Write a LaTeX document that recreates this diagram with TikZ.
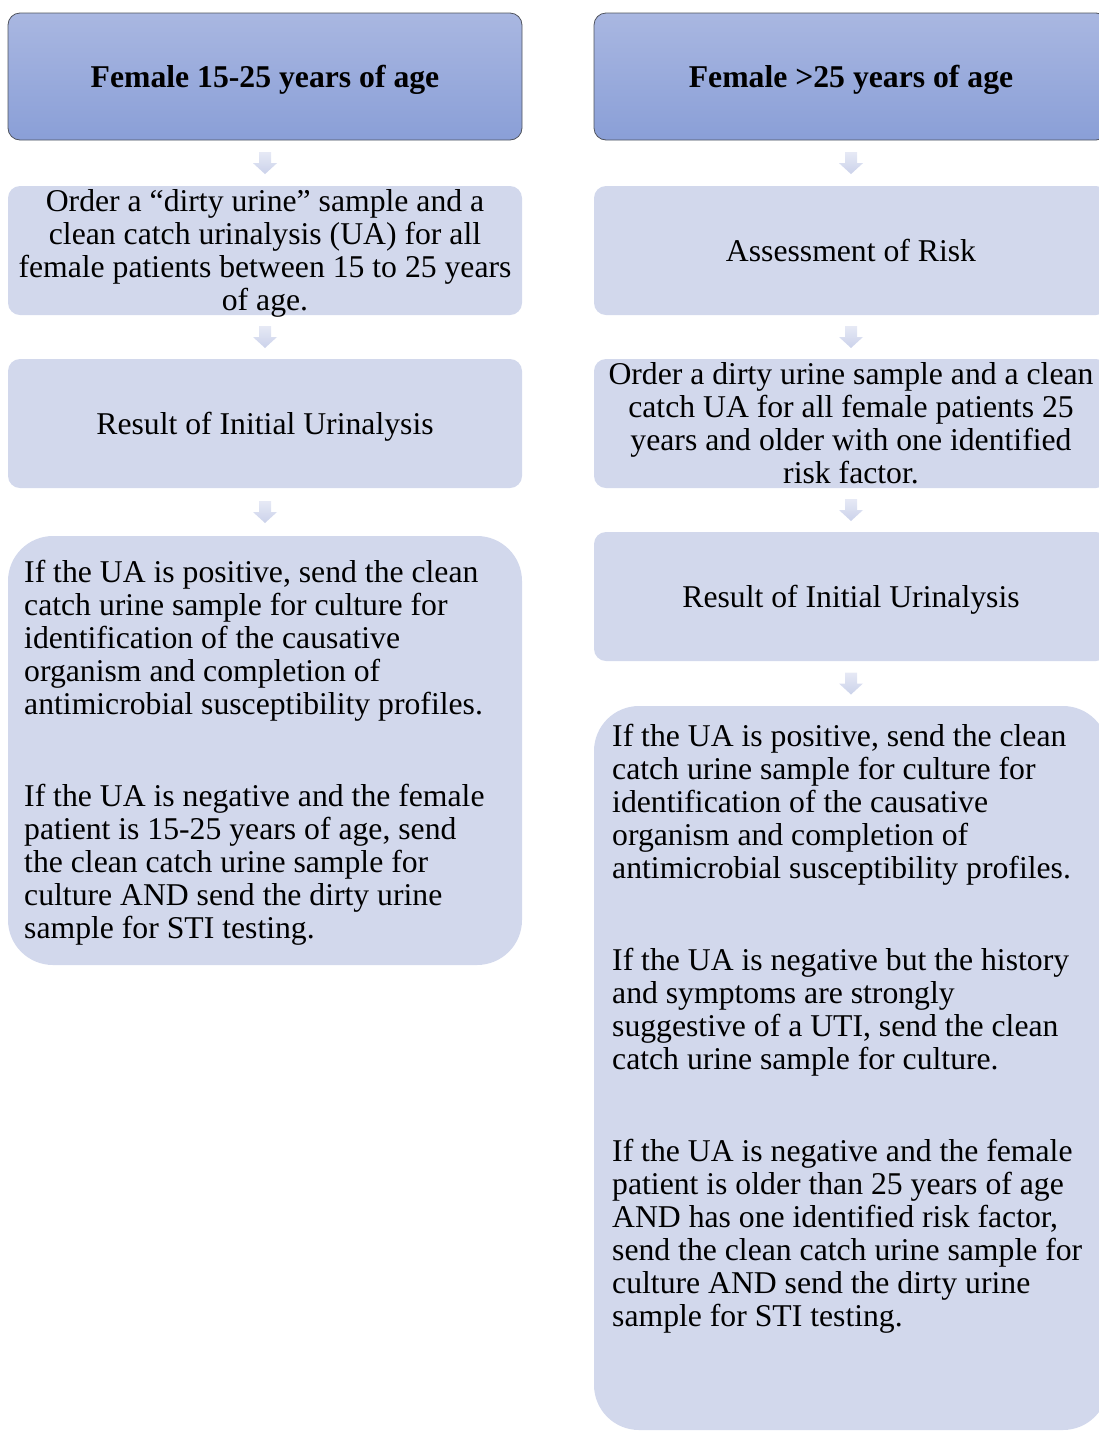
\documentclass[tikz,border=0pt]{standalone}
\usepackage{fontspec}
\setmainfont{Liberation Serif}
\usetikzlibrary{calc}
\definecolor{hdrtop}{HTML}{A9B7E1}
\definecolor{hdrbot}{HTML}{8A9FD7}
\definecolor{boxfill}{HTML}{D2D8EC}
\definecolor{hdredge}{HTML}{50545E}
\definecolor{arrtop}{HTML}{E6E9F5}
\definecolor{arrbot}{HTML}{CBD2EA}
\newcommand{\flowconn}[2]{%
  \coordinate (m#1#2) at ($(#1.south)!0.5!(#2.north)$);
  \path[arrshape] ($(m#1#2)+(-6,-11)$) -- ($(m#1#2)+(6,-11)$) -- ($(m#1#2)+(6,0)$) -- ($(m#1#2)+(12,0)$) -- ($(m#1#2)+(0,11)$) -- ($(m#1#2)+(-12,0)$) -- ($(m#1#2)+(-6,0)$) -- cycle;}
\begin{document}
\begin{tikzpicture}[x=1pt,y=-1pt,
  txtfont/.style={font=\fontsize{31.7}{33}\selectfont},
  hdr/.style={draw=hdredge, line width=0.8pt, rounded corners=12pt, top color=hdrtop, bottom color=hdrbot, minimum width=514pt, minimum height=127pt, inner sep=0pt},
  hdrtext/.style={inner sep=0pt, align=center, font=\fontsize{31.7}{33}\selectfont\bfseries},
  sbox/.style={fill=boxfill, rounded corners=12pt, minimum width=514pt, minimum height=129pt, inner sep=0pt},
  stext/.style={inner sep=0pt, align=center, txtfont},
  bbox/.style={fill=boxfill, rounded corners=45pt, minimum width=514pt, inner sep=0pt},
  btext/.style={anchor=base west, inner sep=0pt, txtfont},
  arrshape/.style={top color=arrtop, bottom color=arrbot}
]
\useasboundingbox (0,0) rectangle (1099,1433);
\clip (0,0) rectangle (1099,1433);

% left column
\node[hdr] (L1) at (265,76.5) {};
\node[hdrtext] (L1t) at ($(L1.center)+(0,3)$) {Female 15-25 years of age};
\node[sbox] (L2) at (265,250.5) {};
\node[stext] (L2t) at ($(L2.center)+(0,2.5)$) {Order a “dirty urine” sample and a\\clean catch urinalysis (UA) for all\\female patients between 15 to 25 years\\of age.};
\node[sbox] (L3) at (265,423.5) {};
\node[stext] (L3t) at ($(L3.center)+(0,3.5)$) {Result of Initial Urinalysis};
\node[bbox, minimum height=429pt] (L4) at (265,750.5) {};
\node[btext] (L4t) at (24,582) {\parbox[t]{490pt}{\raggedright
If the UA is positive, send the clean\\
catch urine sample for culture for\\
identification of the causative\\
organism and completion of\\
antimicrobial susceptibility profiles.\\[59pt]
If the UA is negative and the female\\
patient is 15-25 years of age, send\\
the clean catch urine sample for\\
culture AND send the dirty urine\\
sample for STI testing.}};

% right column
\node[hdr] (R1) at (851,76.5) {};
\node[hdrtext] (R1t) at ($(R1.center)+(0,3)$) {Female >25 years of age};
\node[sbox] (R2) at (851,250.5) {};
\node[stext] (R2t) at ($(R2.center)+(0,-0.5)$) {Assessment of Risk};
\node[sbox] (R3) at (851,423.5) {};
\node[stext] (R3t) at ($(R3.center)+(0,-0.5)$) {Order a dirty urine sample and a clean\\catch UA for all female patients 25\\years and older with one identified\\risk factor.};
\node[sbox] (R4) at (851,596.5) {};
\node[stext] (R4t) at ($(R4.center)+(0,3.5)$) {Result of Initial Urinalysis};
\node[bbox, minimum height=724pt] (R5) at (851,1068) {};
\node[btext] (R5t) at (612,746) {\parbox[t]{490pt}{\raggedright
If the UA is positive, send the clean\\
catch urine sample for culture for\\
identification of the causative\\
organism and completion of\\
antimicrobial susceptibility profiles.\\[59pt]
If the UA is negative but the history\\
and symptoms are strongly\\
suggestive of a UTI, send the clean\\
catch urine sample for culture.\\[59pt]
If the UA is negative and the female\\
patient is older than 25 years of age\\
AND has one identified risk factor,\\
send the clean catch urine sample for\\
culture AND send the dirty urine\\
sample for STI testing.}};

% connectors
\flowconn{L1}{L2}
\flowconn{L2}{L3}
\flowconn{L3}{L4}
\flowconn{R1}{R2}
\flowconn{R2}{R3}
\flowconn{R3}{R4}
\flowconn{R4}{R5}
\end{tikzpicture}
\end{document}
